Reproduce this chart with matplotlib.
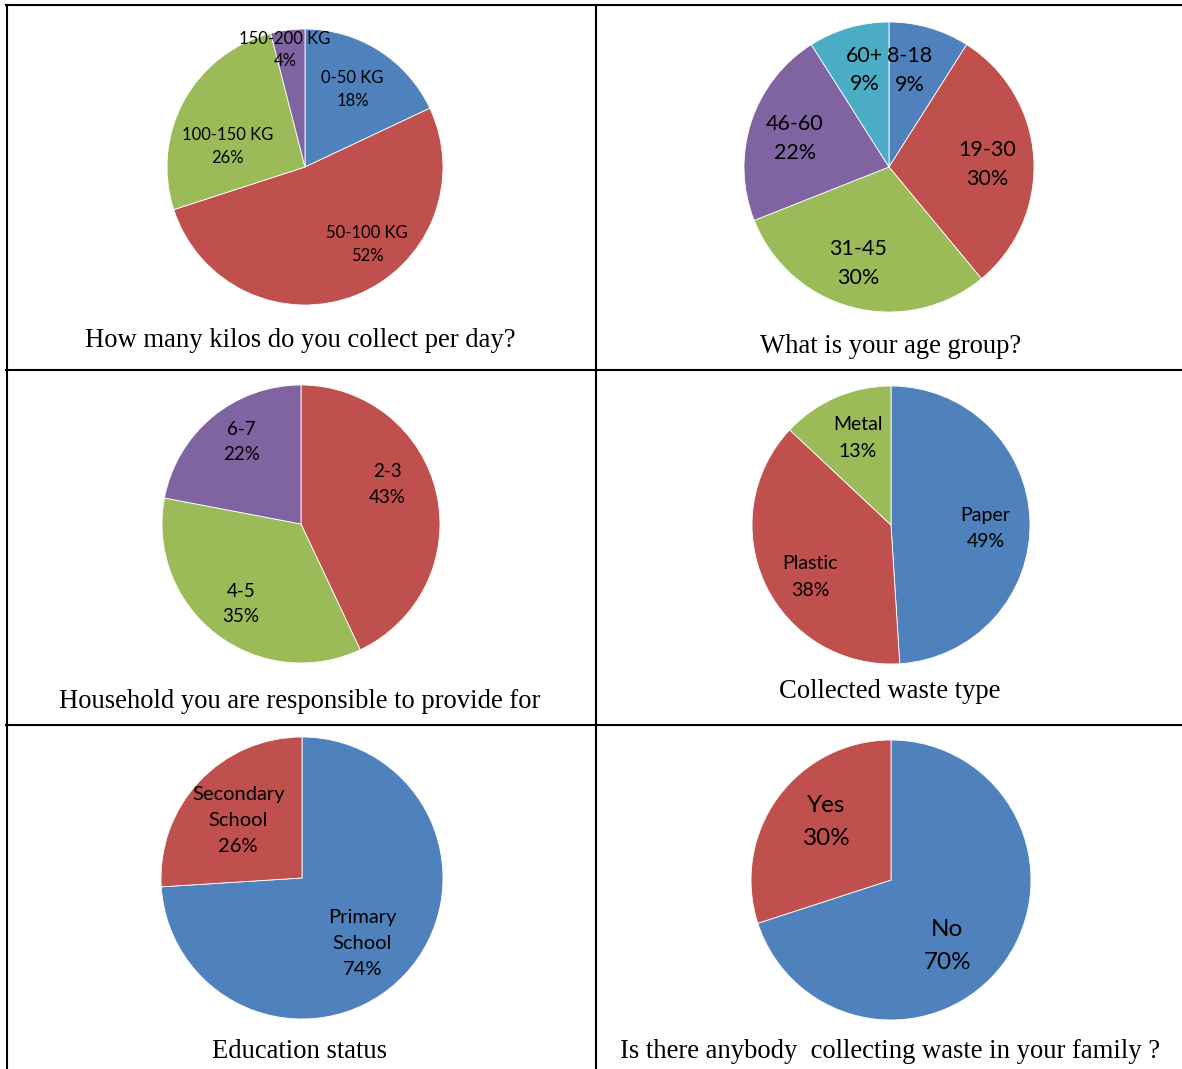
import matplotlib.pyplot as plt
from matplotlib.lines import Line2D
import numpy as np

# data for the six survey questions
kilo_labels = ['0-50 KG', '50-100 KG', '100-150 KG', '150-200 KG']
kilo_values = [18, 52, 26, 4]

age_labels = ['8-18', '19-30', '31-45', '46-60', '60+']
age_values = [9, 30, 30, 22, 9]

house_labels = ['2-3', '4-5', '6-7']
house_values = [43, 35, 22]

waste_labels = ['Paper', 'Plastic', 'Metal']
waste_values = [49, 38, 13]

edu_labels = ['Primary\nSchool', 'Secondary\nSchool']
edu_values = [74, 26]

family_labels = ['No', 'Yes']
family_values = [70, 30]

titles = ['How many kilos do you collect per day?',
          'What is your age group?',
          'Household you are responsible to provide for',
          'Collected waste type',
          'Education status',
          'Is there anybody  collecting waste in your family ?']

# office-style palette
blue, red, green, purple, cyan = '#4F81BD', '#C0504D', '#9BBB59', '#8064A2', '#4BACC6'

W, H = 1182, 1069
fig = plt.figure(figsize=(W / 100, H / 100), dpi=100)
fig.patch.set_facecolor('white')

# (labels, values, colors, center x, center y, radius px,
#  label distances, label angle nudges, font size, line spacing, title x, title y)
charts = [
    (kilo_labels, kilo_values, [blue, red, green, purple], 305, 167, 138,
     [0.66, 0.72, 0.58, 0.86], [1, 17, 14, 2.5], 12, 1.52, 300, 340),
    (age_labels, age_values, [blue, red, green, purple, cyan], 889, 167, 145,
     [0.68, 0.68, 0.70, 0.68, 0.69], [4, -2, -3.5, 1, -2], 15.5, 1.56, 891, 347),
    (house_labels, house_values, [red, green, purple], 301, 524, 139,
     [0.68, 0.72, 0.73], [12, 1, -3.5], 13.5, 1.62, 300, 702),
    (waste_labels, waste_values, [blue, red, green], 891, 525, 139,
     [0.68, 0.69, 0.67], [-4, 7.5, -2.5], 14, 1.68, 890, 692),
    (edu_labels, edu_values, [blue, red], 302, 878, 141,
     [0.63, 0.61], [-4, 1], 14.5, 1.65, 300, 1051),
    (family_labels, family_values, [blue, red], 891, 880, 140,
     [0.62, 0.62], [-13.5, -6], 17.5, 1.68, 890, 1051),
]

for (labels, values, colors, cx, cy, r, dists, nudges, fs, ls, tx, ty), title in zip(charts, titles):
    ax = fig.add_axes([(cx - r) / W, 1 - (cy + r) / H, 2 * r / W, 2 * r / H])
    wedges, _ = ax.pie(values, colors=colors, startangle=90, counterclock=False,
                       wedgeprops=dict(edgecolor='white', linewidth=0.6))
    ax.set_aspect('equal')
    ax.set_xlim(-1, 1)
    ax.set_ylim(-1, 1)
    ax.axis('off')
    for w, lab, v, d, n in zip(wedges, labels, values, dists, nudges):
        mid = np.deg2rad((w.theta1 + w.theta2) / 2 + n)
        ax.text(d * np.cos(mid), d * np.sin(mid), f'{lab}\n{v}%',
                ha='center', va='center', fontsize=fs, family='Lato',
                linespacing=ls, color='black')
    fig.text(tx / W, 1 - ty / H, title, ha='center', va='center',
             fontsize=19.2, family='Liberation Serif', color='black')

# table borders
def hline(y, x0=6, x1=W):
    fig.add_artist(Line2D([x0 / W, x1 / W], [1 - y / H, 1 - y / H], color='black', lw=1.5))

def vline(x, y0=5, y1=H):
    fig.add_artist(Line2D([x / W, x / W], [1 - y0 / H, 1 - y1 / H], color='black', lw=1.5))

hline(5)
hline(370)
hline(725)
vline(6.5)
vline(596)

fig.savefig('out.png', dpi=100)
